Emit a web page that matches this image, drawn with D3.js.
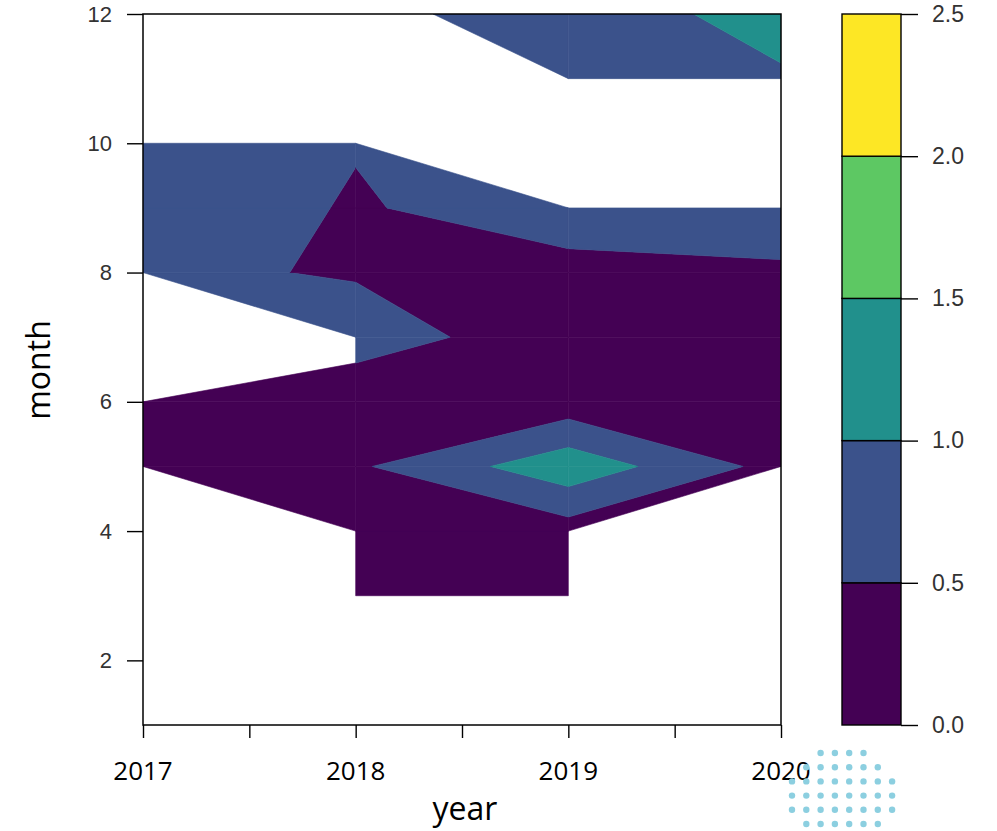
<!DOCTYPE html>
<html>
<head>
<meta charset="utf-8">
<script src="https://cdn.jsdelivr.net/npm/d3@7"></script>
<style>
  body { margin: 0; background: #fff; }
  svg { display: block; }
</style>
</head>
<body>
<svg id="chart" width="997" height="831"></svg>
<script>
// ---- data -------------------------------------------------------------
const years = [2017, 2018, 2019, 2020];
const months = [1, 2, 3, 4, 5, 6, 7, 8, 9, 10, 11, 12];

// Monthly values per year (null = no observation for that month)
const values2017 = [null, null, null, null, 0.30, 0.30, null, 0.578, 0.87, 0.60, null, null];
const values2018 = [null, null, 0.10, 0.20, 0.43, 0.20, 0.70, 0.465, 0.45, 0.53, null, 0.46];
const values2019 = [null, null, 0.15, 0.27, 1.33, 0.20, 0.25, 0.33, 0.79, null, 0.70, 0.57];
const values2020 = [null, null, null, null, 0.32, 0.30, 0.35, 0.40, 0.90, null, 0.905, 1.30];

const levels = [0.0, 0.5, 1.0, 1.5, 2.0, 2.5];
const bandColors = ["#440154", "#3B528B", "#21908C", "#5DC863", "#FDE725"];

const monthTicks = [2, 4, 6, 8, 10, 12];
const yearTicks = [2017, 2017.5, 2018, 2018.5, 2019, 2019.5, 2020];
const yearLabels = [2017, 2018, 2019, 2020];

const grid = [values2017, values2018, values2019, values2020];

// ---- layout -------------------------------------------------------------
const svg = d3.select("#chart");
const plot = { left: 143, right: 781, top: 14, bottom: 725 };
const key = { left: 842, right: 901 };

const x = d3.scaleLinear().domain([2017, 2020]).range([plot.left, plot.right]);
const y = d3.scaleLinear().domain([1, 12]).range([plot.bottom, plot.top]);
const c = d3.scaleLinear().domain([0, 2.5]).range([plot.bottom, plot.top]);

// ---- filled contour bands ----------------------------------------------
// For each grid cell, walk its perimeter and keep the corner points and
// linear edge crossings that fall inside a band [lo, hi). Missing corners
// are skipped, so the cell is cut along the diagonal.
function bandPolygon(corners, lo, hi, isTop) {
  const pts = [];
  const inBand = z => z >= lo && (isTop ? z <= hi : z < hi);
  for (let k = 0; k < 4; k++) {
    const a = corners[k], b = corners[(k + 1) % 4];
    if (a.z == null) continue;
    if (inBand(a.z)) pts.push([a.x, a.y]);
    if (b.z == null) continue;
    const ts = [];
    for (const lev of [lo, hi]) {
      if ((a.z - lev) * (b.z - lev) < 0) ts.push((lev - a.z) / (b.z - a.z));
    }
    ts.sort((p, q) => p - q);
    for (const t of ts) pts.push([a.x + t * (b.x - a.x), a.y + t * (b.y - a.y)]);
  }
  return pts;
}

const polys = [];
for (let i = 0; i < years.length - 1; i++) {
  for (let j = 0; j < months.length - 1; j++) {
    const corners = [
      { x: years[i],     y: months[j],     z: grid[i][j] },
      { x: years[i + 1], y: months[j],     z: grid[i + 1][j] },
      { x: years[i + 1], y: months[j + 1], z: grid[i + 1][j + 1] },
      { x: years[i],     y: months[j + 1], z: grid[i][j + 1] }
    ];
    for (let k = 0; k < levels.length - 1; k++) {
      const pts = bandPolygon(corners, levels[k], levels[k + 1], k === levels.length - 2);
      if (pts.length > 2) polys.push({ pts, color: bandColors[k] });
    }
  }
}

const line = d3.line().x(d => x(d[0])).y(d => y(d[1]));

svg.append("clipPath").attr("id", "plot-clip")
  .append("rect")
  .attr("x", plot.left).attr("y", plot.top)
  .attr("width", plot.right - plot.left).attr("height", plot.bottom - plot.top);

svg.append("g").attr("clip-path", "url(#plot-clip)")
  .selectAll("path").data(polys).join("path")
  .attr("d", d => line(d.pts) + "Z")
  .attr("fill", d => d.color)
  .attr("stroke", d => d.color)
  .attr("stroke-width", 0.6)
  .attr("stroke-linejoin", "round");

// ---- axes ---------------------------------------------------------------
const yAxis = svg.append("g")
  .attr("transform", `translate(${plot.left},0)`)
  .call(d3.axisLeft(y).tickValues(monthTicks).tickSize(16).tickPadding(15).tickFormat(d3.format("d")));
yAxis.select(".domain").remove();
yAxis.selectAll(".tick line").attr("stroke", "#000").attr("stroke-width", 1.4);
yAxis.selectAll(".tick text")
  .attr("font-family", "'Liberation Sans', Arial, sans-serif")
  .attr("font-size", 22).attr("fill", "#333");

const xAxis = svg.append("g")
  .attr("transform", `translate(0,${plot.bottom})`)
  .call(d3.axisBottom(x).tickValues(yearTicks).tickSize(13).tickFormat(""));
xAxis.select(".domain").remove();
xAxis.selectAll(".tick line").attr("stroke", "#000").attr("stroke-width", 1.4);

svg.append("g").selectAll("text").data(yearLabels).join("text")
  .attr("x", d => x(d))
  .attr("y", 780)
  .attr("text-anchor", "middle")
  .attr("font-family", "'Open Sans', 'Noto Sans', sans-serif")
  .attr("font-size", 26)
  .attr("fill", "#000")
  .text(d => d);

// plot frame
svg.append("rect")
  .attr("x", plot.left).attr("y", plot.top)
  .attr("width", plot.right - plot.left).attr("height", plot.bottom - plot.top)
  .attr("fill", "none").attr("stroke", "#000").attr("stroke-width", 1.5);

// axis titles
svg.append("text")
  .attr("x", 465).attr("y", 820)
  .attr("text-anchor", "middle")
  .attr("font-family", "'Open Sans', 'Noto Sans', sans-serif")
  .attr("font-size", 32).attr("fill", "#000")
  .text("year");

svg.append("text")
  .attr("transform", "translate(50,370) rotate(-90)")
  .attr("text-anchor", "middle")
  .attr("font-family", "'Open Sans', 'Noto Sans', sans-serif")
  .attr("font-size", 32).attr("fill", "#000")
  .text("month");

// ---- colour key ---------------------------------------------------------
const bands = d3.range(levels.length - 1).map(k => ({ lo: levels[k], hi: levels[k + 1], color: bandColors[k] }));
svg.append("g").selectAll("rect").data(bands).join("rect")
  .attr("x", key.left)
  .attr("y", d => c(d.hi))
  .attr("width", key.right - key.left)
  .attr("height", d => c(d.lo) - c(d.hi))
  .attr("fill", d => d.color)
  .attr("stroke", "#000")
  .attr("stroke-width", 1.4);

const keyAxis = svg.append("g")
  .attr("transform", `translate(${key.right},0)`)
  .call(d3.axisRight(c).tickValues(levels).tickSize(17).tickPadding(14).tickFormat(d3.format(".1f")));
keyAxis.select(".domain").remove();
keyAxis.selectAll(".tick line").attr("stroke", "#000").attr("stroke-width", 1.4);
keyAxis.selectAll(".tick text")
  .attr("font-family", "'Liberation Sans', Arial, sans-serif")
  .attr("font-size", 23).attr("fill", "#333");

// ---- decorative dot badge ----------------------------------------------
const dots = [];
for (let r = 0; r < 7; r++) {
  for (let k = 0; k < 8; k++) {
    const cx = 792 + k * 14.3, cy = 753 + r * 14.2;
    if (Math.hypot(cx - 842, cy - 800) <= 55 && cy < 831) dots.push([cx, cy]);
  }
}
svg.append("g").selectAll("circle").data(dots).join("circle")
  .attr("cx", d => d[0]).attr("cy", d => d[1]).attr("r", 3.2)
  .attr("fill", "#8ccfe0");
</script>
</body>
</html>
